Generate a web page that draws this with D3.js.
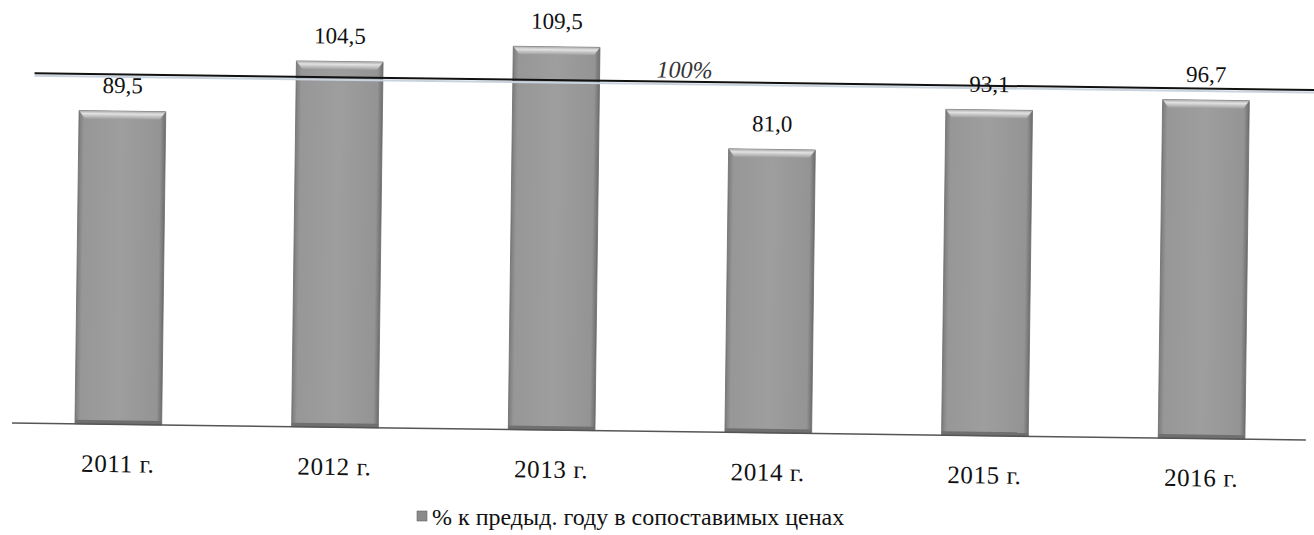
<!DOCTYPE html>
<html lang="ru">
    <head>
        <meta charset="utf-8">
        <title>% к предыд. году</title>
        <script src="https://d3js.org/d3.v7.min.js"></script>
        <style>
            body { margin: 0; background: #fff; }
            svg { display: block; }
            svg text { font-family: "Liberation Serif", "Times New Roman", serif; }
        </style>
    </head>
    <body>
        <script>
            const years = ['2011 г.', '2012 г.', '2013 г.', '2014 г.', '2015 г.', '2016 г.'];
            const values = [89.5, 104.5, 109.5, 81.0, 93.1, 96.7];
            const refValue = 100;
            const refLabel = '100%';
            const legendLabel = '% к предыд. году в сопоставимых ценах';

            const w = 1314;
            const h = 535;
            const base = 423;

            const svg = d3.select('body')
                          .append('svg')
                          .attr('width', w)
                          .attr('height', h)

            const defs = svg.append('defs')
            const grad = defs.append('linearGradient')
                             .attr('id', 'barFill')
                             .attr('x1', 0).attr('x2', 1).attr('y1', 0).attr('y2', 0)
            grad.append('stop').attr('offset', '0%').attr('stop-color', '#7c7c7c')
            grad.append('stop').attr('offset', '6%').attr('stop-color', '#979797')
            grad.append('stop').attr('offset', '50%').attr('stop-color', '#9e9e9e')
            grad.append('stop').attr('offset', '94%').attr('stop-color', '#949494')
            grad.append('stop').attr('offset', '100%').attr('stop-color', '#6e6e6e')
            const topGrad = defs.append('linearGradient')
                                .attr('id', 'topFill')
                                .attr('x1', 0).attr('x2', 0).attr('y1', 0).attr('y2', 1)
            topGrad.append('stop').attr('offset', '0%').attr('stop-color', '#a8a8a8')
            topGrad.append('stop').attr('offset', '35%').attr('stop-color', '#e2e2e2')
            topGrad.append('stop').attr('offset', '100%').attr('stop-color', '#9e9e9e')

            // the scan is tilted a little clockwise
            const g = svg.append('g')
                         .attr('transform', 'rotate(0.75, 12, ' + base + ')')

            const x = d3.scaleBand()
                        .domain(years)
                        .range([10, 1310])
                        .paddingInner(0.6)
                        .paddingOuter(0.3)
            const y = d3.scaleLinear()
                        .domain([0, 100])
                        .range([base, 73])

            const bars = g.selectAll('.bar')
                          .data(values)
                          .enter()
                          .append('g')
                          .attr('class', 'bar')
                          .attr('transform', (d, i) => 'translate(' + x(years[i]) + ',0)')

            bars.append('rect')
                .attr('x', 0)
                .attr('y', d => y(d))
                .attr('width', x.bandwidth())
                .attr('height', d => base - y(d))
                .attr('fill', 'url(#barFill)')
                .attr('stroke', '#6a6a6a')
                .attr('stroke-width', 0.8)
            bars.append('path')
                .attr('d', d => {
                    const t = y(d), bw = x.bandwidth()
                    return 'M0,' + t + 'L' + bw + ',' + t + 'L' + (bw - 6) + ',' + (t + 8) + 'L6,' + (t + 8) + 'Z'
                })
                .attr('fill', 'url(#topFill)')
            bars.append('rect')
                .attr('x', 0)
                .attr('y', base - 4)
                .attr('width', x.bandwidth())
                .attr('height', 4)
                .attr('fill', '#6f6f6f')

            // baseline
            g.append('line')
             .attr('x1', 12).attr('x2', 1306)
             .attr('y1', base).attr('y2', base)
             .attr('stroke', '#555')
             .attr('stroke-width', 1.5)

            // 100% line
            g.append('line')
             .attr('x1', 30).attr('x2', 1320)
             .attr('y1', y(refValue) + 2.5).attr('y2', y(refValue) + 2.5)
             .attr('stroke', '#c9d3df')
             .attr('stroke-width', 2)
            g.append('line')
             .attr('x1', 30).attr('x2', 1320)
             .attr('y1', y(refValue)).attr('y2', y(refValue))
             .attr('stroke', '#111')
             .attr('stroke-width', 2)
            g.append('text')
             .text(refLabel)
             .attr('x', 680)
             .attr('y', y(refValue) - 4)
             .attr('text-anchor', 'middle')
             .attr('font-style', 'italic')
             .attr('font-size', 24)
             .attr('fill', '#333')

            // value labels
            g.selectAll('.val')
             .data(values)
             .enter()
             .append('text')
             .attr('class', 'val')
             .text(d => d3.format('.1f')(d).replace('.', ','))
             .attr('x', (d, i) => x(years[i]) + x.bandwidth() / 2)
             .attr('y', d => y(d) - 18)
             .attr('text-anchor', 'middle')
             .attr('font-size', 23)
             .attr('fill', '#111')

            // category labels
            const xAxis = d3.axisBottom(x).tickSize(0).tickPadding(30)
            const ax = g.append('g')
                        .attr('transform', 'translate(0,' + base + ')')
                        .call(xAxis)
            ax.attr('font-family', null)
            ax.select('.domain').remove()
            ax.selectAll('text')
              .attr('font-size', 25)
              .attr('letter-spacing', 0.6)
              .attr('fill', '#111')

            // legend
            const legend = svg.append('g')
                              .attr('transform', 'translate(416, 525)')
            legend.append('rect')
                  .attr('x', 1).attr('y', -14)
                  .attr('width', 10).attr('height', 10)
                  .attr('fill', '#8a8a8a')
                  .attr('stroke', '#666')
                  .attr('stroke-width', 0.6)
            legend.append('text')
                  .text(legendLabel)
                  .attr('x', 16)
                  .attr('y', 0)
                  .attr('font-size', 24)
                  .attr('fill', '#111')
        </script>
    </body>
</html>
